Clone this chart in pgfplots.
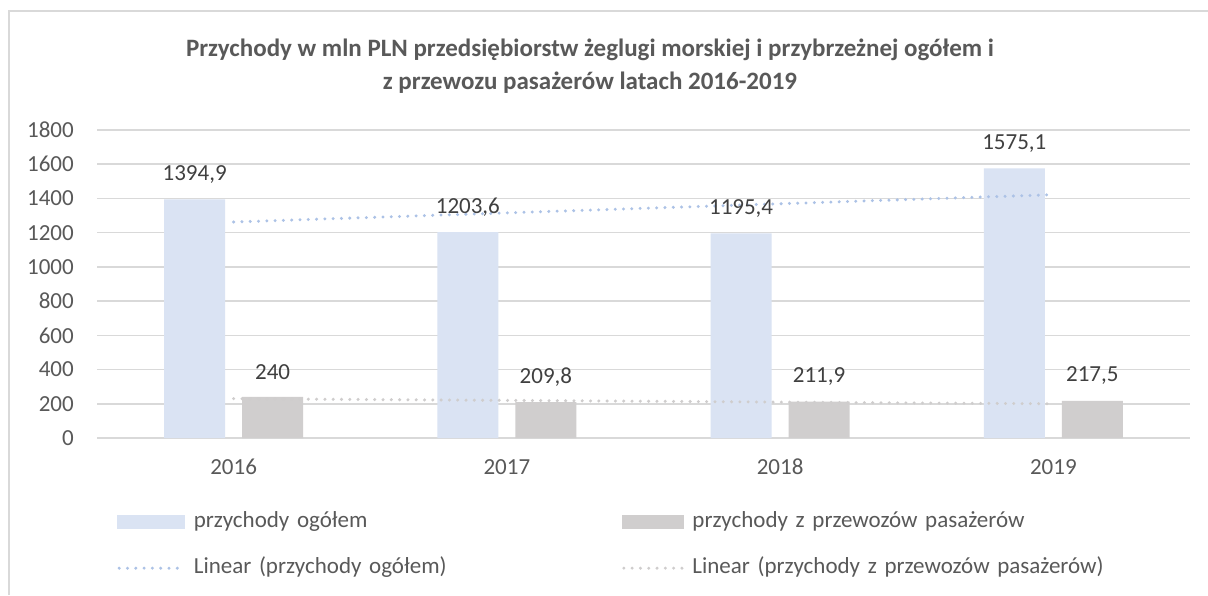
\documentclass[border=0pt]{standalone}
\usepackage{pgfplots}
\pgfplotsset{compat=1.18}
\usepackage{fontspec}
\setmainfont{Carlito}
\definecolor{barblue}{HTML}{DAE3F3}
\definecolor{bargray}{HTML}{D0CECE}
\definecolor{trendblue}{HTML}{ACC2E6}
\definecolor{trendgray}{HTML}{CFCDCD}
\definecolor{gridc}{HTML}{D9D9D9}
\definecolor{txt}{HTML}{595959}
\definecolor{lbl}{HTML}{404040}
\begin{document}
\begin{tikzpicture}[x=1pt,y=1pt]
\useasboundingbox (0,0) rectangle (1208,595);
\fill[white] (0,0) rectangle (1208,595);
\draw[gridc, line width=1.5pt] (9,0) -- (9,584) -- (1208,584);
\begin{axis}[
  at={(97pt,157pt)}, anchor=south west,
  scale only axis, width=1093pt, height=308pt,
  xmin=-0.5, xmax=3.5, ymin=0, ymax=1800,
  xtick={0,1,2,3}, xticklabels={2016,2017,2018,2019},
  ytick={0,200,...,1800},
  ymajorgrids, grid style={gridc, line width=1.5pt},
  axis line style={draw=none},
  major tick length=0pt,
  tick label style={font=\fontsize{23}{27}\selectfont, text=txt},
  xticklabel style={anchor=center, yshift=-29pt},
  yticklabel style={anchor=east, inner sep=0pt, xshift=-23pt},
  /pgf/number format/use comma,
  /pgf/number format/1000 sep={},
  /pgf/number format/assume math mode=true,
  legend columns=2,
  legend cell align=left,
  legend style={at={(axis description cs:0.0183,-0.2386)}, anchor=north west,
    draw=none, fill=none, inner sep=0pt, row sep=25pt,
    nodes={text width=428pt, align=left, inner sep=0pt, text height=16pt, text depth=5pt,
      font=\fontsize{23}{27}\selectfont, text=txt},
    /tikz/every odd column/.style={column sep=7pt}},
]
\addplot[ybar, bar width=61pt, bar shift=-39pt, fill=barblue, draw=none,
  nodes near coords,
  nodes near coords style={font=\fontsize{23}{27}\selectfont, text=lbl, anchor=center, yshift=25pt, xshift=-39pt},
  legend image code/.code={\fill[barblue] (0pt,-7pt) rectangle (68pt,7pt);}]
  coordinates {(0,1394.9) (1,1203.6) (2,1195.4) (3,1575.1)};
\addlegendentry{przychody ogółem}
\addplot[ybar, bar width=61pt, bar shift=39pt, fill=bargray, draw=none,
  nodes near coords,
  nodes near coords style={font=\fontsize{23}{27}\selectfont, text=lbl, anchor=center, yshift=25pt, xshift=39pt},
  legend image code/.code={\fill[bargray] (0pt,-7pt) rectangle (62pt,7pt);}]
  coordinates {(0,240) (1,209.8) (2,211.9) (3,217.5)};
\addlegendentry{przychody z przewozów pasażerów}
\addplot[trendblue, line width=3.3pt, line cap=round, dash pattern=on 0pt off 8.3pt,
  legend image code/.code={\draw[trendblue, line width=3.3pt, line cap=round, dash pattern=on 0pt off 8.3pt] (2pt,0pt) -- (68pt,0pt);}]
  coordinates {(0,1262.4) (3,1422.1)};
\addlegendentry{Linear (przychody ogółem)}
\addplot[trendgray, line width=3.3pt, line cap=round, dash pattern=on 0pt off 8.3pt,
  legend image code/.code={\draw[trendgray, line width=3.3pt, line cap=round, dash pattern=on 0pt off 8.3pt] (2pt,0pt) -- (62pt,0pt);}]
  coordinates {(0,229.6) (3,200.2)};
\addlegendentry{Linear (przychody z przewozów pasażerów)}
\end{axis}
\node[font=\bfseries\fontsize{25}{29}\selectfont, text=txt] at (590,545) {Przychody w mln PLN przedsiębiorstw żeglugi morskiej i przybrzeżnej ogółem i};
\node[font=\bfseries\fontsize{25}{29}\selectfont, text=txt] at (590,512) {z przewozu pasażerów latach 2016-2019};
\end{tikzpicture}
\end{document}
